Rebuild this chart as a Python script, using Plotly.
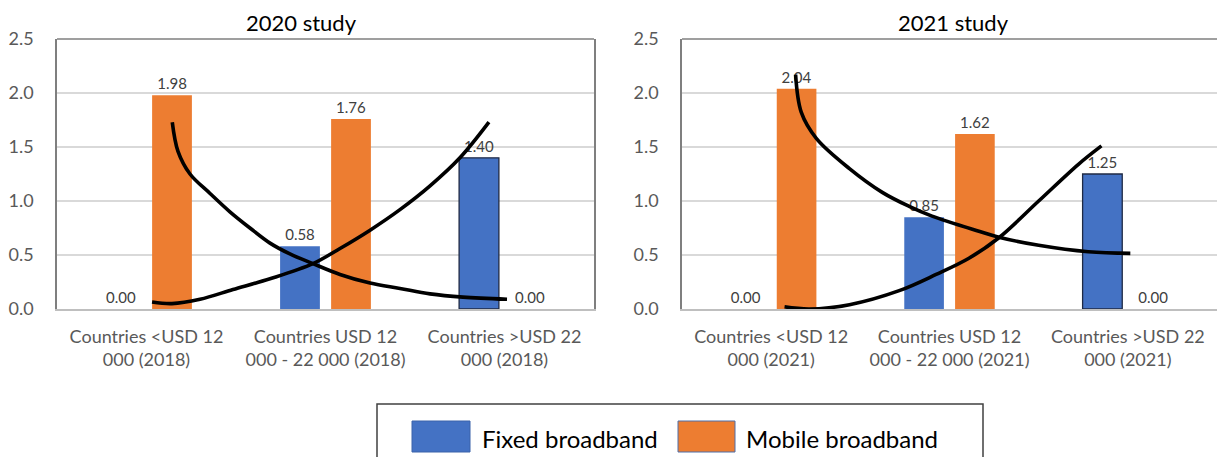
import plotly.graph_objects as go

W, H = 1217, 457

# ---------------- data ----------------
categories_2020 = ["Countries <USD 12<br>000 (2018)", "Countries USD 12<br>000 - 22 000 (2018)", "Countries >USD 22<br>000 (2018)"]
categories_2021 = ["Countries <USD 12<br>000 (2021)", "Countries USD 12<br>000 - 22 000 (2021)", "Countries >USD 22<br>000 (2021)"]
cat_pos = [0, 1, 2]

fixed_2020 = [0.00, 0.58, 1.40]
mobile_2020 = [1.98, 1.76, 0.00]
fixed_2021 = [0.00, 0.85, 1.25]
mobile_2021 = [2.04, 1.62, 0.00]

# trend curves (x in category units, y values)
trend_mob_2020_x = [0.144, 0.176, 0.243, 0.355, 0.466, 0.578, 0.690, 0.801, 0.930, 1.081, 1.249, 1.416, 1.584, 1.768, 2.014]
trend_mob_2020_y = [1.73, 1.46, 1.25, 1.07, 0.90, 0.75, 0.61, 0.51, 0.42, 0.32, 0.24, 0.19, 0.14, 0.11, 0.09]
trend_fix_2020_x = [0.031, 0.142, 0.299, 0.483, 0.690, 0.930, 1.081, 1.249, 1.416, 1.584, 1.751, 1.913]
trend_fix_2020_y = [0.065, 0.05, 0.09, 0.18, 0.28, 0.42, 0.56, 0.73, 0.92, 1.14, 1.40, 1.73]

trend_mob_2021_x = [0.137, 0.169, 0.253, 0.439, 0.623, 0.774, 0.902, 1.165, 1.277, 1.500, 1.779, 2.014]
trend_mob_2021_y = [2.17, 1.82, 1.58, 1.30, 1.08, 0.95, 0.86, 0.72, 0.665, 0.59, 0.53, 0.515]
trend_fix_2021_x = [0.075, 0.215, 0.439, 0.718, 0.925, 1.109, 1.277, 1.500, 1.723, 1.852]
trend_fix_2021_y = [0.02, 0.00, 0.04, 0.17, 0.32, 0.47, 0.66, 1.00, 1.34, 1.51]

titles = ["2020 study", "2021 study"]
legend_names = ["Fixed broadband", "Mobile broadband"]

BLUE = "#4472C4"
ORANGE = "#ED7D31"
FONT = "Lato"

fig = go.Figure()

def add_panel(xa, ya, fixed, mobile, tmx, tmy, tfx, tfy):
    fig.add_trace(go.Bar(
        x=cat_pos, y=fixed, name=legend_names[0], marker_color=BLUE,
        marker_line_color=["#4472C4", "#4472C4", "#1F2A44"], marker_line_width=[0, 0, 1.3],
        texttemplate="%{y:.2f}", textposition="outside", cliponaxis=False,
        textfont=dict(family=FONT, size=15, color="#404040"),
        xaxis=xa, yaxis=ya, showlegend=False))
    fig.add_trace(go.Bar(
        x=cat_pos, y=mobile, name=legend_names[1], marker_color=ORANGE,
        marker_line_width=0,
        texttemplate="%{y:.2f}", textposition="outside", cliponaxis=False,
        textfont=dict(family=FONT, size=15, color="#404040"),
        xaxis=xa, yaxis=ya, showlegend=False))
    for tx, ty in [(tmx, tmy), (tfx, tfy)]:
        fig.add_trace(go.Scatter(
            x=tx, y=ty, mode="lines", line=dict(color="black", width=3.6, shape="spline", smoothing=1.0),
            xaxis=xa, yaxis=ya, showlegend=False, hoverinfo="skip", cliponaxis=False))

add_panel("x", "y", fixed_2020, mobile_2020, trend_mob_2020_x, trend_mob_2020_y, trend_fix_2020_x, trend_fix_2020_y)
add_panel("x2", "y2", fixed_2021, mobile_2021, trend_mob_2021_x, trend_mob_2021_y, trend_fix_2021_x, trend_fix_2021_y)

ydom = [1 - 309 / H, 1 - 39 / H]
xdom1 = [57 / W, 594 / W]
xdom2 = [682 / W, 1.0]

def xaxis_cfg(dom, labels, anchor):
    return dict(domain=dom, range=[-0.5, 2.5], tickvals=cat_pos, ticktext=labels,
                showgrid=False, zeroline=False, showline=True, linecolor="#BFBFBF", linewidth=2,
                ticks="", ticklabelstandoff=10, automargin=False,
                tickfont=dict(family=FONT, size=18, color="#595959"), anchor=anchor, fixedrange=True)

def yaxis_cfg(anchor):
    return dict(domain=ydom, range=[0, 2.5], dtick=0.5, tickformat=".1f",
                showgrid=True, gridcolor="#D9D9D9", gridwidth=1.5, zeroline=False,
                showline=True, mirror=True, linecolor="#7F7F7F", linewidth=1.5,
                ticks="", ticklabelstandoff=18, automargin=False,
                tickfont=dict(family=FONT, size=18, color="#595959"), anchor=anchor, fixedrange=True)

shapes = []
for xr, yr in [("x domain", "y domain"), ("x2 domain", "y2 domain")]:
    shapes.append(dict(type="line", xref=xr, yref=yr, x0=0, x1=1, y0=1, y1=1,
                       line=dict(color="#7F7F7F", width=1.5)))

# legend box (drawn manually to match the large swatches)
def px(x):
    return x / W

def py(y):
    return 1 - y / H

shapes.append(dict(type="rect", xref="paper", yref="paper", x0=px(377), x1=px(983), y0=py(404), y1=py(470),
                   line=dict(color="#404040", width=1.5), fillcolor="rgba(0,0,0,0)"))
shapes.append(dict(type="rect", xref="paper", yref="paper", x0=px(412), x1=px(470), y0=py(421), y1=py(452),
                   line=dict(color="#3A62AA", width=1), fillcolor=BLUE))
shapes.append(dict(type="rect", xref="paper", yref="paper", x0=px(678), x1=px(735), y0=py(421), y1=py(452),
                   line=dict(color="#4F6FA8", width=1), fillcolor=ORANGE))

annotations = [
    dict(text=titles[0], x=px(301), y=py(22), xref="paper", yref="paper", showarrow=False,
         xanchor="center", yanchor="middle", font=dict(family=FONT, size=22, color="#000000")),
    dict(text=titles[1], x=px(953), y=py(22), xref="paper", yref="paper", showarrow=False,
         xanchor="center", yanchor="middle", font=dict(family=FONT, size=22, color="#000000")),
    dict(text=legend_names[0], x=px(480), y=py(438), xref="paper", yref="paper", showarrow=False,
         xanchor="left", yanchor="middle", font=dict(family=FONT, size=24, color="#000000")),
    dict(text=legend_names[1], x=px(744), y=py(438), xref="paper", yref="paper", showarrow=False,
         xanchor="left", yanchor="middle", font=dict(family=FONT, size=24, color="#000000")),
]

fig.update_layout(
    width=W, height=H,
    margin=dict(l=0, r=0, t=0, b=0, pad=0, autoexpand=False),
    paper_bgcolor="white", plot_bgcolor="white",
    barmode="group", bargap=0.43, bargroupgap=0.22,
    showlegend=False,
    xaxis=xaxis_cfg(xdom1, categories_2020, "y"),
    yaxis=yaxis_cfg("x"),
    xaxis2=xaxis_cfg(xdom2, categories_2021, "y2"),
    yaxis2=yaxis_cfg("x2"),
    shapes=shapes,
    annotations=annotations,
    font=dict(family=FONT),
)

fig.write_html("out.html", config={"displayModeBar": False})
